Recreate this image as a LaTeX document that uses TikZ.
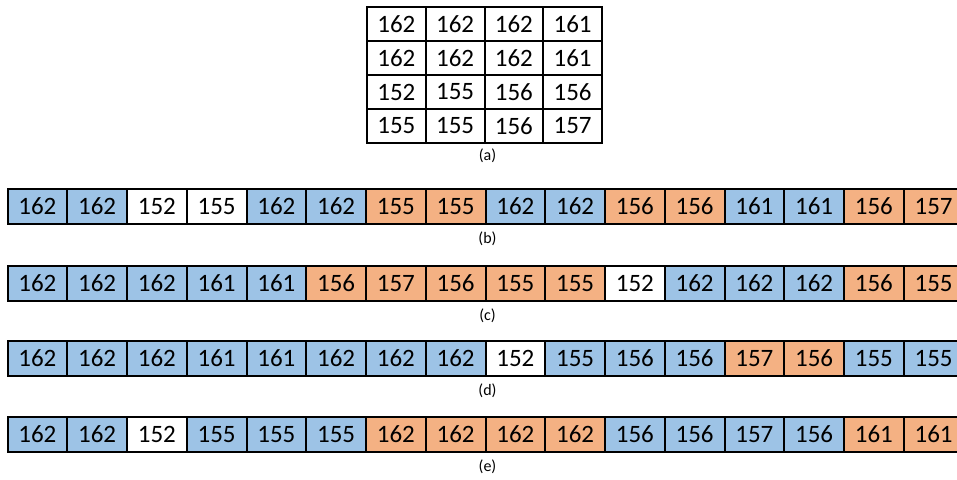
\documentclass[tikz,border=0pt]{standalone}
\usepackage{fontspec}
\setmainfont{Carlito}
\usetikzlibrary{positioning}
\definecolor{cB}{HTML}{9DC3E6}
\definecolor{cO}{HTML}{F4B183}
\definecolor{cW}{HTML}{FFFFFF}

\begin{document}
\begin{tikzpicture}[x=1pt, y=-1pt, line width=2pt,
	cell/.style={draw, inner sep=0pt, outer sep=0pt, minimum width=59.75pt, minimum height=35pt, font=\fontsize{25}{25}\selectfont},
	mcell/.style={cell, minimum width=58.75pt, minimum height=34pt},
	caption/.style={font=\fontsize{16}{16}\selectfont}]
	\useasboundingbox (0,0) rectangle (957,479);
	% 4x4 block
	\foreach \r/\vals in {1/{162,162,162,161}, 2/{162,162,162,161}, 3/{152,155,156,156}, 4/{155,155,156,157}}
		\foreach \v [count=\c] in \vals
			\node[mcell] (a\r\c) at ({367+58.75*(\c-0.5)}, {7+34*(\r-0.5)}) {\v};
	\node[caption] (capa) at ([xshift=3pt, yshift=-13pt]a42.south east) {(a)};
	% scan orders
	\foreach \row/\top/\vals in {
		b/189/{162/B,162/B,152/W,155/W,162/B,162/B,155/O,155/O,162/B,162/B,156/O,156/O,161/B,161/B,156/O,157/O},
		c/266/{162/B,162/B,162/B,161/B,161/B,156/O,157/O,156/O,155/O,155/O,152/W,162/B,162/B,162/B,156/O,155/O},
		d/341/{162/B,162/B,162/B,161/B,161/B,162/B,162/B,162/B,152/W,155/B,156/B,156/B,157/O,156/O,155/B,155/B},
		e/417/{162/B,162/B,152/W,155/B,155/B,155/B,162/O,162/O,162/O,162/O,156/B,156/B,157/B,156/B,161/O,161/O}}
	{
		\foreach \v/\f [count=\c] in \vals
			\node[cell, fill=c\f] (\row\c) at ({7.5+59.75*(\c-0.5)}, {\top+17.5}) {\v};
		\node[caption] (cap\row) at ([xshift=2pt, yshift=-15pt]\row8.south east) {(\row)};
	}
\end{tikzpicture}
\end{document}
